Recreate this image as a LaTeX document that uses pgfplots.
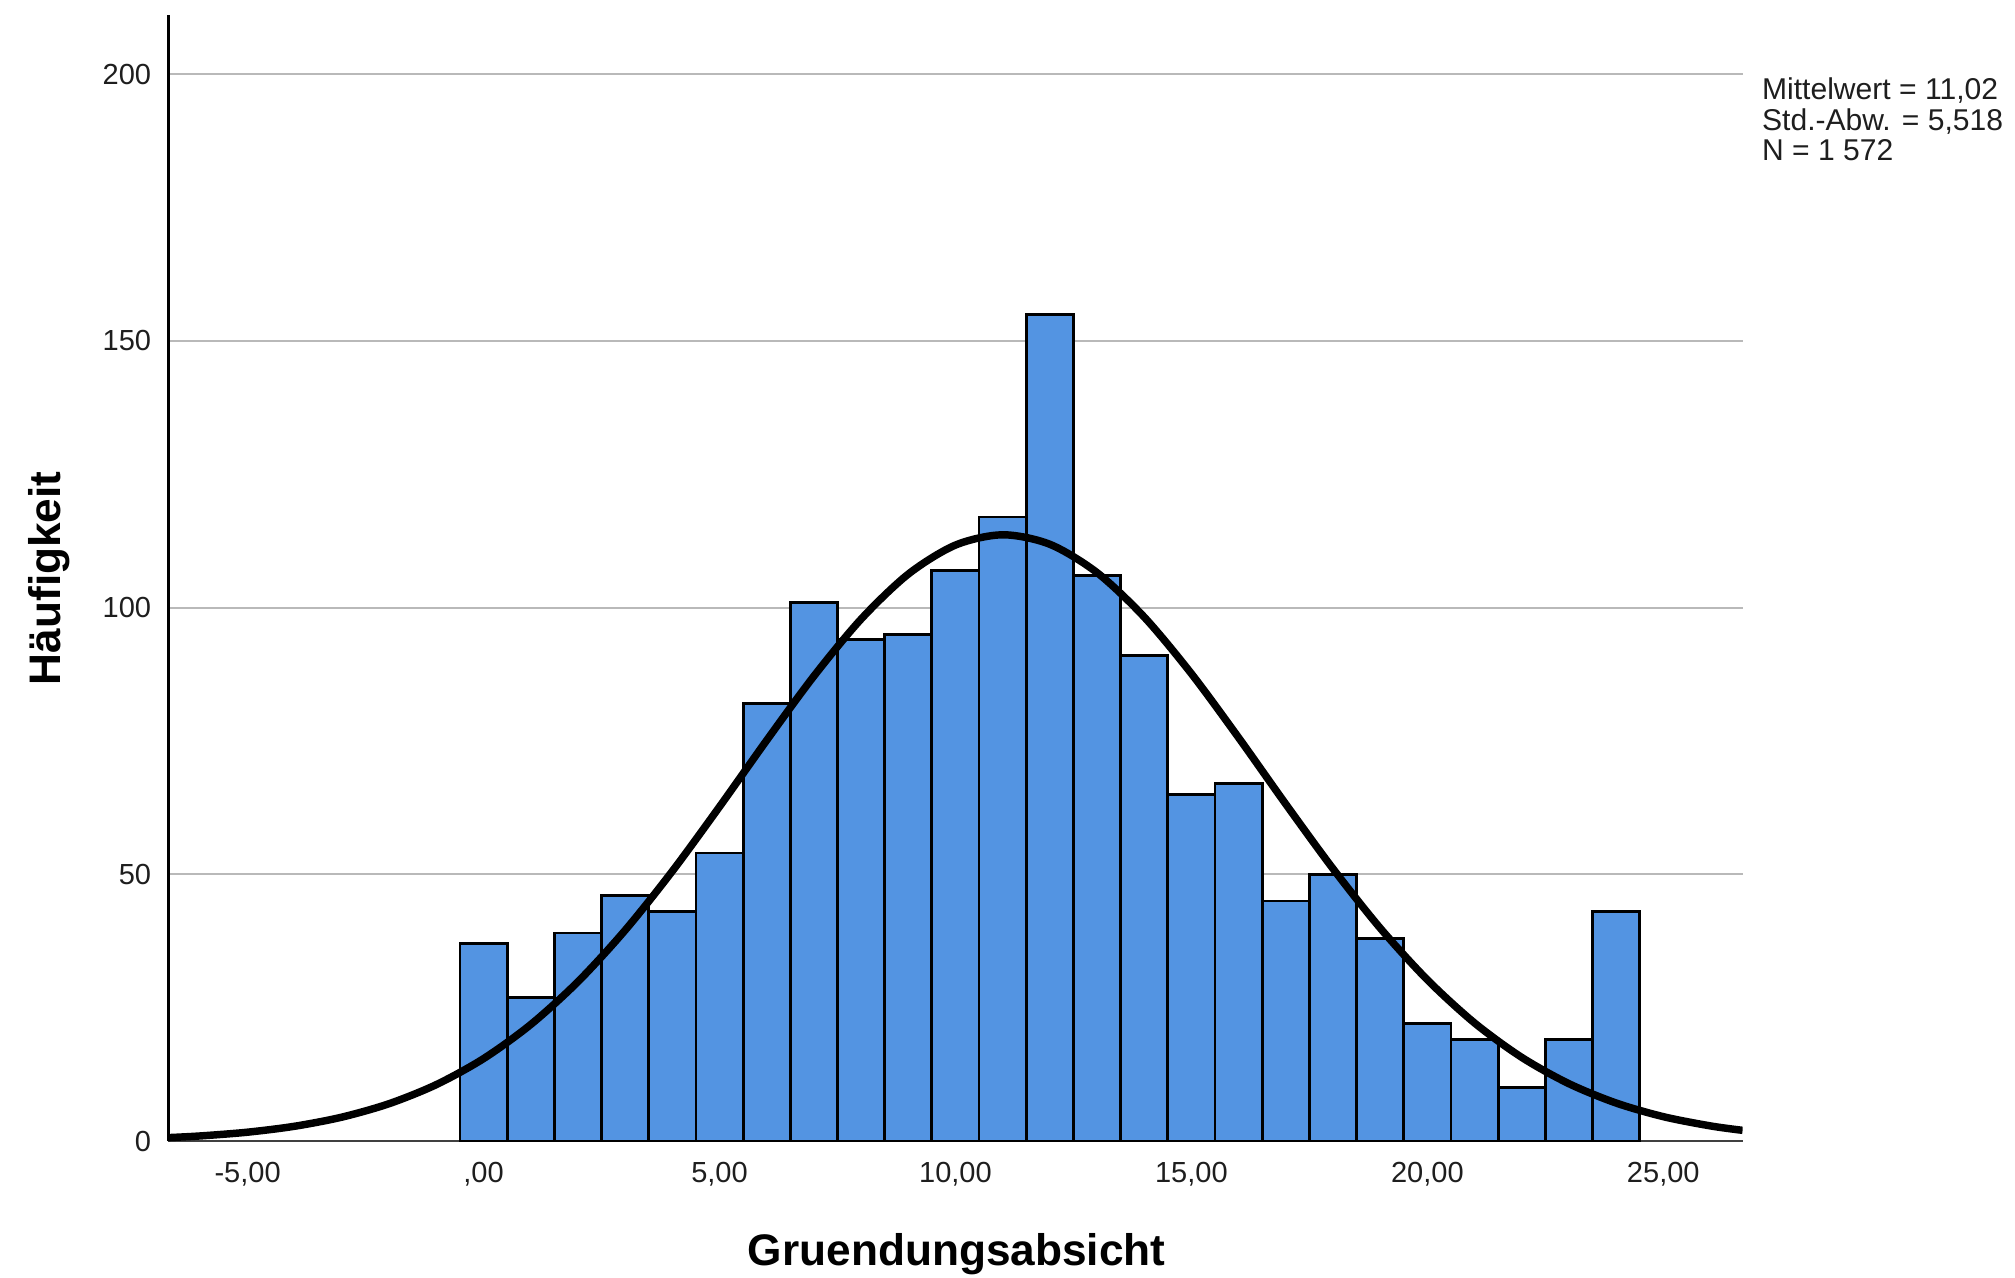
\documentclass[border=0pt]{standalone}
\usepackage{fontspec}
\setmainfont{Liberation Sans}
\usepackage{pgfplots}
\pgfplotsset{compat=1.18}
\definecolor{barblue}{RGB}{83,148,226}
\definecolor{gridgray}{RGB}{185,185,185}
\definecolor{ticktext}{RGB}{30,30,30}
\begin{document}
\begin{tikzpicture}
\useasboundingbox (-65.5pt,-53pt) rectangle (718.5pt,444pt);
\begin{axis}[
  at={(0,0)}, anchor=south west,
  scale only axis,
  width=612.5pt, height=438pt,
  xmin=-6.68, xmax=26.68,
  ymin=0, ymax=211,
  axis x line*=bottom, axis y line*=left,
  x axis line style={draw=black!75, line width=1pt},
  y axis line style={draw=black, line width=1pt},
  xtick={-5,0,5,10,15,20,25},
  xticklabels={-5{,}00,{,}00,5{,}00,10{,}00,15{,}00,20{,}00,25{,}00},
  ytick={0,50,100,150,200},
  major tick length=0pt,
  ymajorgrids,
  major grid style={draw=gridgray, line width=0.7pt},
  /pgf/number format/assume math mode=true,
  tick label style={font=\fontsize{11.3}{14}\selectfont, text=ticktext},
  xticklabel style={inner sep=0pt, anchor=north, yshift=-8pt},
  yticklabel style={inner sep=0pt, anchor=east, xshift=-6.5pt},
  xlabel={Gruendungsabsicht},
  ylabel={Häufigkeit},
  label style={font=\fontsize{17.2}{20}\selectfont\bfseries},
  xlabel style={at={(axis description cs:0.5008,-0.1107)}, anchor=base},
  ylabel style={at={(axis description cs:-0.0686,0.5)}, anchor=base, rotate=0},
]
\addplot[ybar, bar width=1, fill=barblue, draw=black, line width=1.1pt] coordinates {
(0,37) (1,27) (2,39) (3,46) (4,43) (5,54) (6,82) (7,101) (8,94) (9,95)
(10,107) (11,117) (12,155) (13,106) (14,91) (15,65) (16,67) (17,45) (18,50) (19,38)
(20,22) (21,19) (22,10) (23,19) (24,43)
};
\addplot[black, line width=2.9pt, smooth, mark=none] coordinates {
(-6.68,0.663) (-6,0.977) (-5,1.680) (-4,2.797) (-3,4.506) (-2,7.026) (-1,10.60)
(0,15.47) (1,21.86) (2,29.88) (3,39.53) (4,50.60) (5,62.68) (6,75.13) (7,87.16)
(8,97.84) (9,106.28) (10,111.72) (11,113.65) (12,111.87) (13,106.56) (14,98.23)
(15,87.62) (16,75.63) (17,63.17) (18,51.07) (19,39.94) (20,30.24) (21,22.15)
(22,15.70) (23,10.77) (24,7.146) (25,4.589) (26,2.853) (26.68,2.025)
};
\end{axis}
\node[anchor=base west, inner sep=0pt, text=ticktext, font=\fontsize{11.7}{11.7}\selectfont] at (619.9pt,405.1pt)
  {\renewcommand{\arraystretch}{1.0}\begin{tabular}[t]{@{}l@{}}Mittelwert = 11,02\\Std.-Abw. = 5,518\\N = 1 572\end{tabular}};
\end{tikzpicture}
\end{document}
